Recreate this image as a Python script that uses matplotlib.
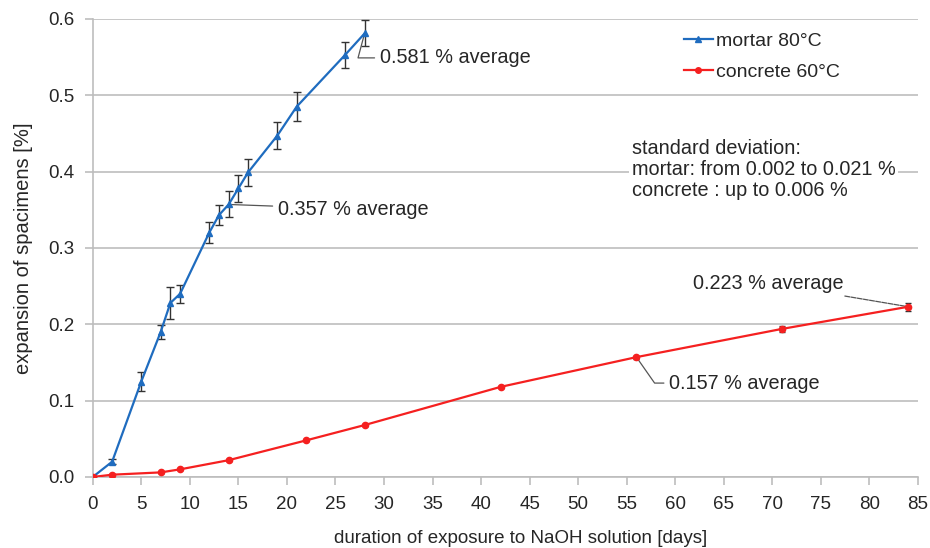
import matplotlib
matplotlib.use("Agg")
import matplotlib.pyplot as plt
from matplotlib.lines import Line2D

plt.rcParams['font.family'] = ['Liberation Sans', 'DejaVu Sans']

# Data
mortar_days = [0, 2, 5, 7, 8, 9, 12, 13, 14, 15, 16, 19, 21, 26, 28]
mortar_exp = [0.0, 0.020, 0.125, 0.190, 0.228, 0.240, 0.320, 0.343, 0.357, 0.378, 0.399, 0.447, 0.485, 0.553, 0.581]
mortar_err = [0.001, 0.003, 0.012, 0.009, 0.021, 0.012, 0.014, 0.013, 0.017, 0.018, 0.018, 0.018, 0.019, 0.017, 0.017]

concrete_days = [0, 2, 7, 9, 14, 22, 28, 42, 56, 71, 84]
concrete_exp = [0.0, 0.003, 0.006, 0.010, 0.022, 0.048, 0.068, 0.118, 0.157, 0.194, 0.223]
concrete_err = [0.001, 0.001, 0.001, 0.001, 0.001, 0.001, 0.001, 0.001, 0.002, 0.004, 0.005]

x_ticks = list(range(0, 90, 5))
y_ticks = [0.0, 0.1, 0.2, 0.3, 0.4, 0.5, 0.6]

blue = '#1f6cbf'
red = '#f52020'
grid_gray = '#bdbdbd'
text_col = '#262626'

fig = plt.figure(figsize=(9.3, 5.48), dpi=100)
ax = fig.add_axes([0.0997, 0.1296, 0.8874, 0.8358])

ax.errorbar(mortar_days, mortar_exp, yerr=mortar_err, color=blue, marker='^', markersize=5,
            lw=1.6, ecolor='#333333', elinewidth=1.0, capsize=3, capthick=1.0, zorder=3)
ax.errorbar(concrete_days, concrete_exp, yerr=concrete_err, color=red, marker='o', markersize=4.5,
            lw=1.6, ecolor='#333333', elinewidth=1.0, capsize=2, capthick=1.0, zorder=3)

ax.set_xlim(0, 85)
ax.set_ylim(0, 0.6)
ax.set_xticks(x_ticks)
ax.set_yticks(y_ticks)
ax.set_yticklabels([f'{v:.1f}' for v in y_ticks])
ax.grid(axis='y', color=grid_gray, lw=1.2)
ax.set_axisbelow(True)
for s in ['top', 'right']:
    ax.spines[s].set_visible(False)
for s in ['left', 'bottom']:
    ax.spines[s].set_color(grid_gray)
    ax.spines[s].set_linewidth(1.2)
ax.tick_params(axis='both', colors=grid_gray, labelcolor=text_col, labelsize=13.5, length=6, width=1.2)
ax.tick_params(axis='x', pad=7.5)
ax.tick_params(axis='y', pad=7)

ax.set_xlabel('duration of exposure to NaOH solution [days]', fontsize=13.5, color=text_col,
              labelpad=12.5, x=0.518)
ax.set_ylabel('expansion of spacimens [%]', fontsize=14.5, color=text_col, labelpad=11)

handles = [Line2D([], [], color=blue, marker='^', markersize=4.5, lw=1.6),
           Line2D([], [], color=red, marker='o', markersize=4, lw=1.6)]
labels = ['mortar 80°C', 'concrete 60°C']
ax.legend(handles, labels, loc='upper left', bbox_to_anchor=(0.702, 0.997), frameon=False, fontsize=14,
          handlelength=1.5, handletextpad=0.15, labelspacing=0.7, labelcolor=text_col, borderaxespad=0.2)

ax.text(0.653, 0.738, 'standard deviation:\nmortar: from 0.002 to 0.021 %\nconcrete : up to 0.006 %',
        transform=ax.transAxes, fontsize=14.3, color=text_col, va='top', ha='left', linespacing=1.12,
        bbox=dict(facecolor='white', edgecolor='none', pad=2), zorder=4)

lead = dict(arrowstyle='-', color='#555555', lw=0.9, shrinkA=2, shrinkB=2)
ax.annotate('0.581 % average', xy=(mortar_days[-1], mortar_exp[-1]), xytext=(29.6, 0.549), ha='left',
            va='center', fontsize=14.3, color=text_col,
            arrowprops={**lead, 'connectionstyle': 'angle,angleA=0,angleB=75,rad=0'})
ax.annotate('0.357 % average', xy=(mortar_days[8], mortar_exp[8]), xytext=(19.1, 0.351), ha='left',
            va='center', fontsize=14.3, color=text_col, arrowprops=lead)
ax.annotate('0.223 % average', xy=(concrete_days[-1], concrete_exp[-1]), xytext=(77.3, 0.254), ha='right',
            va='center', fontsize=14.3, color=text_col,
            arrowprops={**lead, 'ls': (0, (4, 1)), 'shrinkA': 3})
ax.annotate('0.157 % average', xy=(concrete_days[8], concrete_exp[8]), xytext=(59.4, 0.123), ha='left',
            va='center', fontsize=14.3, color=text_col,
            arrowprops={**lead, 'connectionstyle': 'angle,angleA=0,angleB=-55,rad=0'})

fig.savefig('out.png', dpi=100, facecolor='white')
